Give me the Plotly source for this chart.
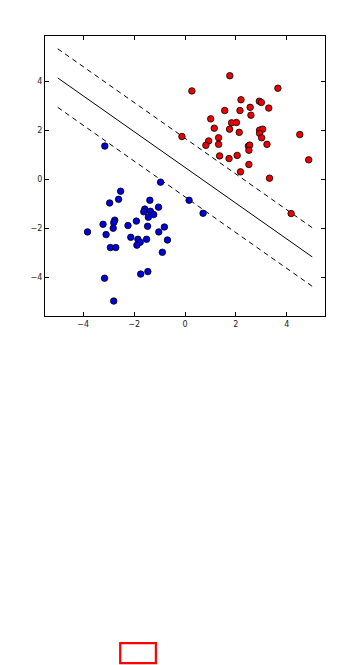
import plotly.graph_objects as go

# ---- data ----
red_x = [1.76, 0.27, 3.65, 2.20, 2.92, 3.00, 1.56, 2.16, 2.56, 3.29, 2.59, 1.01, 1.83,
         2.02, 1.15, 1.75, 2.13, 2.93, 3.05, 2.93, 3.01, -0.12, 4.51, 1.32, 0.93, 0.82,
         1.32, 2.49, 2.54, 2.51, 3.22, 1.36, 1.73, 2.05, 2.51, 4.86, 2.18, 3.32, 4.17]
red_y = [4.22, 3.60, 3.71, 3.24, 3.18, 3.13, 2.80, 2.80, 2.93, 2.90, 2.61, 2.46, 2.30,
         2.31, 2.08, 2.04, 1.91, 2.00, 2.04, 1.87, 1.69, 1.74, 1.82, 1.69, 1.56, 1.38,
         1.42, 1.35, 1.39, 1.18, 1.42, 0.95, 0.84, 0.97, 0.60, 0.79, 0.30, 0.04, -1.40]

blue_x = [-0.96, -2.53, -2.61, -2.96, -1.38, -1.04, -1.58, -1.62, -1.36, -1.23, -1.44,
          -3.22, -2.76, -2.80, -2.82, -3.10, -3.83, -2.24, -1.91, -1.47, -0.81, -1.03,
          -0.69, -2.13, -1.85, -1.51, -1.76, -1.89, -2.93, -2.72, -0.89, -3.16, -1.74,
          -1.46, -2.80, -3.15, 0.16, 0.71]
blue_y = [-0.12, -0.49, -0.82, -0.97, -0.86, -1.14, -1.22, -1.33, -1.31, -1.44, -1.55,
          -1.84, -1.67, -1.77, -2.00, -2.26, -2.15, -1.89, -1.71, -1.92, -1.95, -2.15,
          -2.48, -2.37, -2.45, -2.45, -2.57, -2.69, -2.79, -2.79, -2.98, -4.04, -3.87,
          -3.77, -4.97, 1.35, -0.86, -1.39]

line_x = [-5, 5]
hyperplane_y = [4.13, -3.17]
margin_up_y = [5.32, -1.98]
margin_down_y = [2.93, -4.37]

tick_vals = [-4, -2, 0, 2, 4]
tick_text = ["\u22124", "\u22122", "0", "2", "4"]

fig = go.Figure()

fig.add_trace(go.Scatter(x=line_x, y=hyperplane_y, mode="lines",
                         line=dict(color="black", width=1), hoverinfo="skip"))
fig.add_trace(go.Scatter(x=line_x, y=margin_up_y, mode="lines",
                         line=dict(color="black", width=1, dash="5px,4px"), hoverinfo="skip"))
fig.add_trace(go.Scatter(x=line_x, y=margin_down_y, mode="lines",
                         line=dict(color="black", width=1, dash="5px,4px"), hoverinfo="skip"))

fig.add_trace(go.Scatter(x=red_x, y=red_y, mode="markers",
                         marker=dict(color="#ee0000", size=6.5,
                                     line=dict(color="black", width=0.8))))
fig.add_trace(go.Scatter(x=blue_x, y=blue_y, mode="markers",
                         marker=dict(color="#0000dd", size=6.5,
                                     line=dict(color="black", width=0.8))))

axis_common = dict(
    tickvals=tick_vals, ticktext=tick_text,
    showgrid=False, zeroline=False,
    showline=True, linecolor="black", linewidth=1, mirror="allticks",
    ticks="inside", ticklen=4, tickwidth=1, tickcolor="black",
    tickfont=dict(family="DejaVu Sans", size=8, color="#222222"),
)

fig.update_xaxes(range=[-5.5, 5.5], **axis_common)
fig.update_yaxes(range=[-5.58, 5.84], **axis_common)

fig.add_shape(type="rect", xref="paper", yref="paper",
              x0=0.2686, x1=0.396, y0=-1.168, y1=-1.240,
              line=dict(color="red", width=2.2), fillcolor="rgba(0,0,0,0)")

fig.update_layout(
    width=361, height=665, autosize=False,
    margin=dict(l=37, r=44, t=28, b=357),
    paper_bgcolor="white", plot_bgcolor="white",
    showlegend=False,
)

fig.write_html("out.html")
